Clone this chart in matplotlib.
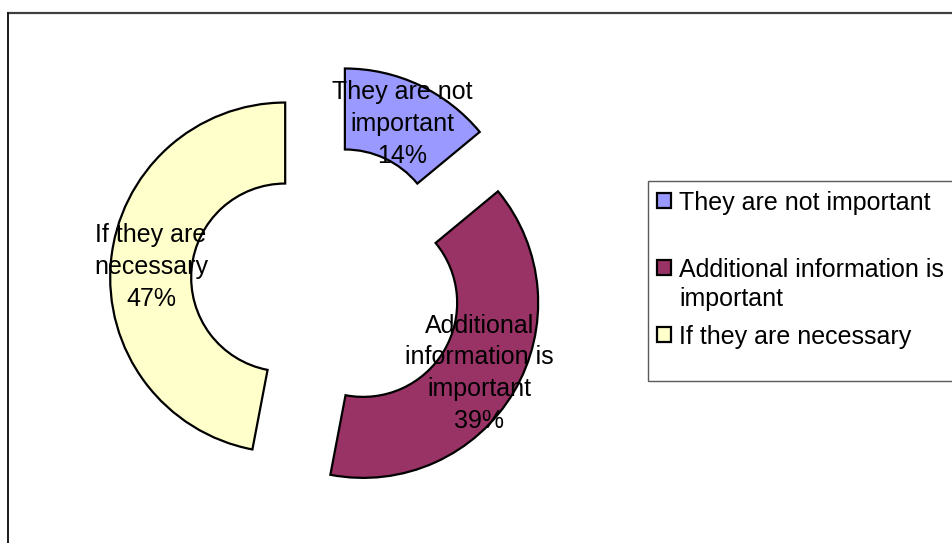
import math
import matplotlib.pyplot as plt
from matplotlib.patches import Rectangle

categories = ['They are not important', 'Additional information is important',
              'If they are necessary']
slice_labels = ['They are not\nimportant', 'Additional\ninformation is\nimportant',
                'If they are\nnecessary']
legend_lines = ['They are not important', 'Additional information is\nimportant',
                'If they are necessary']
shares = [14, 39, 47]
colors = ['#9999FF', '#993366', '#FFFFCC']

plt.rcParams['font.family'] = ['Liberation Sans', 'DejaVu Sans']

W, H = 952, 543
fig = plt.figure(figsize=(W / 100, H / 100), dpi=100)
ax = fig.add_axes([0, 0, 1, 1])

# chart area border (only top and left edges fall inside the image)
ax.plot([7, W], [12.5, 12.5], color='#404040', lw=1.6, solid_capstyle='butt')
ax.plot([7.5, 7.5], [12, H], color='#1a1a1a', lw=1.4, solid_capstyle='butt')

center = (327, 281.5)
radius = 175
gap = 42
wedges, _ = ax.pie(
    shares, colors=colors, center=center, radius=radius,
    explode=[gap] * len(shares), startangle=-90, counterclock=True,
    wedgeprops=dict(width=81, edgecolor='black', linewidth=1.6), frame=True)

ax.set_xlim(0, W)
ax.set_ylim(H, 0)  # pixel-like coordinates, y grows downwards
ax.set_aspect('equal')
ax.axis('off')

# data labels in the middle of each ring segment
for w, s, lab in zip(wedges, shares, slice_labels):
    mid = math.radians((w.theta1 + w.theta2) / 2)
    cx, cy = w.center
    tx = cx + 0.77 * radius * math.cos(mid)
    ty = cy + 0.77 * radius * math.sin(mid) + 2
    ax.text(tx, ty, f'{lab}\n{s}%', ha='center', va='center', fontsize=18,
            linespacing=1.42, color='black')

# legend
ax.add_patch(Rectangle((648, 181), 400, 200, facecolor='white',
                       edgecolor='#5a5a5a', lw=1.0))
square_y = [200, 267, 334]
for y, col, txt in zip(square_y, colors, legend_lines):
    ax.add_patch(Rectangle((657, y - 7.5), 14, 15, facecolor=col,
                           edgecolor='black', lw=1.6))
    ax.text(679, y - 9, txt, ha='left', va='top', fontsize=18,
            linespacing=1.28, color='black')

fig.savefig('out.png', dpi=100)
